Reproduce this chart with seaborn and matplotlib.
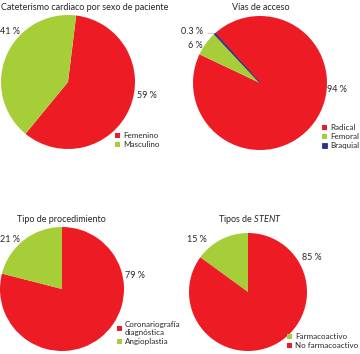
import matplotlib
matplotlib.use("Agg")
import matplotlib.pyplot as plt
import seaborn as sns
import numpy as np

sns.set_style("white")
plt.rcParams['font.family'] = ['Lato', 'DejaVu Sans']
plt.rcParams['mathtext.fontset'] = 'custom'
plt.rcParams['mathtext.it'] = 'Lato:italic'
plt.rcParams['mathtext.rm'] = 'Lato'

RED = '#ED1C24'
GREEN = '#A6CE39'
BLUE = '#2E3192'

# data
sexo_labels = ['Femenino', 'Masculino']
sexo_values = [59, 41]
acceso_labels = ['Radical', 'Femoral', 'Braquial']
acceso_values = [94, 6, 0.3]
proc_labels = ['Coronariografía\ndiagnóstica', 'Angioplastia']
proc_values = [79, 21]
stent_labels = ['Farmacoactivo', 'No farmacoactivo']
stent_values = [15, 85]

W, H = 360, 354
FS = 6.5
LFS = 5.8
fig = plt.figure(figsize=(W / 100, H / 100), dpi=100)
WP = dict(linewidth=0)


def fx(x, y):
    return x / W, 1 - y / H


def pie_axes(cx, cy, r):
    return fig.add_axes([(cx - r) / W, 1 - (cy + r) / H, 2 * r / W, 2 * r / H])


def pct(v):
    return f'{v:g} %'


def legend(ax, wedges, labels, x, y):
    ax.legend(wedges, labels, loc='upper left', bbox_to_anchor=fx(x, y),
              bbox_transform=fig.transFigure, frameon=False, fontsize=LFS,
              borderpad=0, borderaxespad=0, handlelength=0.6, handleheight=0.6,
              handletextpad=0.4, labelspacing=0.25)


# 1. sexo
ax1 = pie_axes(68, 82, 67)
w1, _ = ax1.pie(sexo_values, colors=[RED, GREEN], startangle=83, counterclock=False, wedgeprops=WP)
ax1.set_xlim(-1, 1); ax1.set_ylim(-1, 1)
fig.text(*fx(1, 7), 'Cateterismo cardiaco por sexo de paciente', fontsize=FS, va='center', ha='left')
fig.text(*fx(137, 95), pct(sexo_values[0]), fontsize=FS, va='center')
fig.text(*fx(0, 32), pct(sexo_values[1]), fontsize=FS, va='center')
legend(ax1, w1, sexo_labels, 115, 132)

# 2. acceso
ax2 = pie_axes(260, 83, 67)
w2, _ = ax2.pie(acceso_values, colors=[RED, GREEN, BLUE], startangle=132, counterclock=False, wedgeprops=WP)
ax2.set_xlim(-1, 1); ax2.set_ylim(-1, 1)
# the thin braquial slice gets an outline so it stays visible
w2[2].set_edgecolor(BLUE)
w2[2].set_linewidth(0.6)
fig.text(*fx(261, 7), 'Vías de acceso', fontsize=FS, va='center', ha='center')
fig.text(*fx(327, 89), pct(acceso_values[0]), fontsize=FS, va='center')
fig.text(*fx(188, 46), pct(acceso_values[1]), fontsize=FS, va='center')
b = w2[2]
ang = np.deg2rad((b.theta1 + b.theta2) / 2)
ax2.annotate(pct(acceso_values[2]), xy=(np.cos(ang), np.sin(ang)), xycoords='data',
             xytext=fx(181, 32), textcoords='figure fraction', fontsize=FS, va='center',
             arrowprops=dict(arrowstyle='-', color='#BBBBBB', lw=0.6, shrinkA=1, shrinkB=0),
             annotation_clip=False)
legend(ax2, w2, acceso_labels, 322, 124)

# 3. procedimiento
ax3 = pie_axes(62, 289, 62)
w3, _ = ax3.pie(proc_values, colors=[RED, GREEN], startangle=90, counterclock=False, wedgeprops=WP)
ax3.set_xlim(-1, 1); ax3.set_ylim(-1, 1)
fig.text(*fx(61, 219), 'Tipo de procedimiento', fontsize=FS, va='center', ha='center')
fig.text(*fx(125, 276), pct(proc_values[0]), fontsize=FS, va='center')
fig.text(*fx(0, 240), pct(proc_values[1]), fontsize=FS, va='center')
legend(ax3, w3, proc_labels, 117, 321)

# 4. stent
ax4 = pie_axes(248, 292, 59)
w4, _ = ax4.pie(stent_values, colors=[GREEN, RED], startangle=90, counterclock=True, wedgeprops=WP)
ax4.set_xlim(-1, 1); ax4.set_ylim(-1, 1)
fig.text(*fx(250, 219), 'Tipos de $\\mathit{STENT}$', fontsize=FS, va='center', ha='center')
fig.text(*fx(187, 239), pct(stent_values[0]), fontsize=FS, va='center')
fig.text(*fx(302, 257), pct(stent_values[1]), fontsize=FS, va='center')
legend(ax4, w4, stent_labels, 287, 333)

fig.savefig('out.png', dpi=100)
